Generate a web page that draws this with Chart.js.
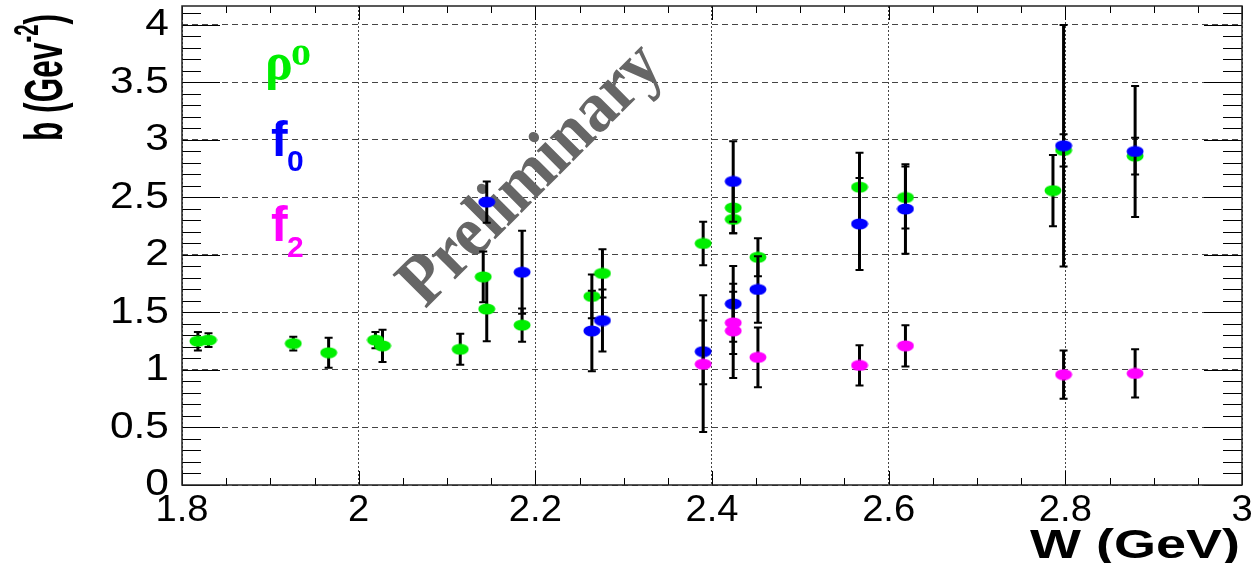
<!DOCTYPE html>
<html>
<head>
<meta charset="utf-8">
<script src="https://cdn.jsdelivr.net/npm/chart.js@4/dist/chart.umd.min.js"></script>
<style>
  html, body { margin: 0; padding: 0; background: #fff; }
  #wrap { width: 1252px; height: 563px; }
</style>
</head>
<body>
<div id="wrap"><canvas id="chartMain" width="1252" height="563"></canvas></div>
<script>
// axis ticks
const xTicks = [1.8, 2.0, 2.2, 2.4, 2.6, 2.8, 3.0];
const yTicks = [0, 0.5, 1, 1.5, 2, 2.5, 3, 3.5, 4];

// rho0 (green)
const rhoW = [1.818, 1.830, 1.926, 1.966, 2.019, 2.027, 2.115, 2.141, 2.145, 2.185, 2.264, 2.276,
              2.390, 2.424, 2.424, 2.452, 2.567, 2.619, 2.786, 2.798, 2.879];
const rhoB = [1.25, 1.26, 1.23, 1.15, 1.26, 1.21, 1.18, 1.81, 1.53, 1.39, 1.64, 1.84,
              2.10, 2.41, 2.31, 1.98, 2.59, 2.50, 2.56, 2.91, 2.86];
const rhoErrLo = [0.08, 0.06, 0.06, 0.13, 0.07, 0.14, 0.135, 0.22, 0.28, 0.145, 0.19, 0.21,
                  0.19, 0.22, 0.12, 0.165, 0.30, 0.27, 0.31, 0.14, 0.16];
const rhoErrHi = [0.08, 0.06, 0.06, 0.13, 0.07, 0.14, 0.135, 0.22, 0.28, 0.145, 0.19, 0.21,
                  0.19, 0.22, 0.12, 0.165, 0.30, 0.27, 0.31, 0.14, 0.16];

// f0 (blue)
const f0W = [2.145, 2.185, 2.264, 2.276, 2.390, 2.424, 2.424, 2.452, 2.567, 2.619, 2.798, 2.879];
const f0B = [2.46, 1.85, 1.34, 1.43, 1.16, 2.64, 1.575, 1.70, 2.27, 2.40, 2.95, 2.90];
const f0ErrLo = [0.18, 0.36, 0.35, 0.27, 0.70, 0.35, 0.33, 0.29, 0.40, 0.39, 1.05, 0.57];
const f0ErrHi = [0.18, 0.36, 0.35, 0.27, 0.49, 0.35, 0.33, 0.29, 0.40, 0.39, 1.05, 0.57];

// f2 (magenta)
const f2W = [2.390, 2.424, 2.424, 2.452, 2.567, 2.619, 2.798, 2.879];
const f2B = [1.05, 1.41, 1.34, 1.11, 1.04, 1.21, 0.96, 0.97];
const f2ErrLo = [0.175, 0.27, 0.41, 0.26, 0.175, 0.18, 0.21, 0.21];
const f2ErrHi = [0.38, 0.27, 0.41, 0.26, 0.175, 0.18, 0.21, 0.21];

const GREEN = '#00ee00', BLUE = '#0000ff', MAGENTA = '#ff00ff';
const SANS = '"Liberation Sans", Arial, Helvetica, sans-serif';
const SERIF = '"Liberation Serif", "Times New Roman", serif';

// elliptical marker like the ROOT plot
function ellipseMarker(color) {
    const c = document.createElement('canvas');
    c.width = 18; c.height = 12;
    const g = c.getContext('2d');
    g.fillStyle = color;
    g.beginPath();
    g.ellipse(9, 6, 8.5, 5.5, 0, 0, Math.PI * 2);
    g.fill();
    return c;
}

function toPoints(ws, bs) {
    return ws.map((w, i) => ({ x: w, y: bs[i] }));
}

// text with separate horizontal / vertical stretch (the original fonts are stretched)
function stretchText(ctx, text, x, y, sx, sy) {
    ctx.save();
    ctx.translate(x, y);
    ctx.scale(sx, sy);
    ctx.fillText(text, 0, 0);
    ctx.restore();
}

// error bars drawn just before each dataset's markers
const errorBars = {
    id: 'errorBars',
    beforeDatasetDraw(chart, args) {
        const ds = chart.data.datasets[args.index];
        const ctx = chart.ctx;
        const ys = chart.scales.y;
        ctx.save();
        ctx.strokeStyle = '#000';
        args.meta.data.forEach((pt, i) => {
            const v = ds.data[i].y;
            const top = ys.getPixelForValue(v + ds.errHi[i]);
            const bot = ys.getPixelForValue(v - ds.errLo[i]);
            ctx.lineWidth = 3;
            ctx.beginPath();
            ctx.moveTo(pt.x, top);
            ctx.lineTo(pt.x, bot);
            ctx.stroke();
            ctx.lineWidth = 2;
            ctx.beginPath();
            ctx.moveTo(pt.x - 4, top); ctx.lineTo(pt.x + 4, top);
            ctx.moveTo(pt.x - 4, bot); ctx.lineTo(pt.x + 4, bot);
            ctx.stroke();
        });
        ctx.restore();
    }
};

// frame, inward ticks, labels and texts
const decorations = {
    id: 'decorations',
    beforeDatasetsDraw(chart) {
        const ctx = chart.ctx;
        const a = chart.chartArea;
        const xs = chart.scales.x, ys = chart.scales.y;
        ctx.save();
        ctx.strokeStyle = '#000';
        ctx.lineWidth = 1;
        ctx.beginPath();
        // y ticks left and right
        for (let k = 0; k <= 41; k++) {
            const v = k / 10;
            const py = Math.round(ys.getPixelForValue(v)) + 0.5;
            const len = (k % 5 === 0) ? 38 : 19;
            ctx.moveTo(a.left, py); ctx.lineTo(a.left + len, py);
            ctx.moveTo(a.right, py); ctx.lineTo(a.right - len, py);
        }
        // x ticks bottom and top
        for (let k = 0; k <= 24; k++) {
            const v = 1.8 + k * 0.05;
            const px = Math.round(xs.getPixelForValue(v)) + 0.5;
            const len = (k % 4 === 0) ? 14 : 7;
            ctx.moveTo(px, a.bottom); ctx.lineTo(px, a.bottom - len);
            ctx.moveTo(px, a.top); ctx.lineTo(px, a.top + len);
        }
        ctx.stroke();
        ctx.lineWidth = 1.5;
        ctx.strokeStyle = '#222';
        ctx.strokeRect(a.left, a.top, a.right - a.left, a.bottom - a.top);

        // Preliminary
        ctx.save();
        ctx.translate(532, 176);
        ctx.rotate(-Math.PI / 4);
        ctx.scale(1.0, 1.1);
        ctx.fillStyle = '#666';
        ctx.font = 'bold 66px ' + SERIF;
        ctx.textAlign = 'center';
        ctx.textBaseline = 'middle';
        ctx.fillText('Preliminary', 0, 0);
        ctx.restore();
        ctx.restore();
    },
    afterDraw(chart) {
        const ctx = chart.ctx;
        const xs = chart.scales.x, ys = chart.scales.y;
        ctx.save();
        ctx.fillStyle = '#000';
        ctx.font = '36px ' + SANS;
        ctx.textAlign = 'right';
        ctx.textBaseline = 'middle';
        yTicks.forEach(v => stretchText(ctx, String(v), 169, ys.getPixelForValue(v), 1.18, 1.05));
        ctx.textAlign = 'center';
        ctx.textBaseline = 'alphabetic';
        xTicks.forEach(v => stretchText(ctx, String(+v.toFixed(1)), xs.getPixelForValue(v), 521, 1.06, 1.05));

        // axis titles
        ctx.font = 'bold 40px ' + SANS;
        ctx.textAlign = 'right';
        stretchText(ctx, 'W (GeV)', 1240, 558, 1.35, 1.0);

        ctx.save();
        ctx.translate(62, 141);
        ctx.rotate(-Math.PI / 2);
        ctx.scale(0.93, 1.6);
        ctx.textAlign = 'left';
        ctx.font = 'bold 34px ' + SANS;
        let t = 'b (Gev';
        ctx.fillText(t, 0, 0);
        let off = ctx.measureText(t).width;
        ctx.font = 'bold 22px ' + SANS;
        ctx.fillText('-2', off, -15);
        off += ctx.measureText('-2').width;
        ctx.font = 'bold 34px ' + SANS;
        ctx.fillText(')', off, 0);
        ctx.restore();

        // labels for the three series
        ctx.textAlign = 'left';
        ctx.fillStyle = GREEN;
        ctx.font = 'bold 52px ' + SERIF;
        ctx.fillText('\u03c1', 265, 79);
        ctx.font = 'bold 40px ' + SERIF;
        ctx.fillText('o', 291, 65);

        ctx.fillStyle = BLUE;
        ctx.font = 'bold 50px ' + SANS;
        ctx.fillText('f', 271, 156);
        ctx.font = 'bold 30px ' + SANS;
        ctx.fillText('0', 287, 171);

        ctx.fillStyle = MAGENTA;
        ctx.font = 'bold 50px ' + SANS;
        ctx.fillText('f', 271, 241);
        ctx.font = 'bold 30px ' + SANS;
        ctx.fillText('2', 287, 257);
        ctx.restore();
    }
};

const ctx = document.getElementById('chartMain').getContext('2d');
new Chart(ctx, {
    type: 'scatter',
    data: {
        datasets: [
            { label: 'rho0', data: toPoints(rhoW, rhoB), errLo: rhoErrLo, errHi: rhoErrHi,
              pointStyle: ellipseMarker(GREEN), order: 3 },
            { label: 'f0', data: toPoints(f0W, f0B), errLo: f0ErrLo, errHi: f0ErrHi,
              pointStyle: ellipseMarker(BLUE), order: 2 },
            { label: 'f2', data: toPoints(f2W, f2B), errLo: f2ErrLo, errHi: f2ErrHi,
              pointStyle: ellipseMarker(MAGENTA), order: 1 }
        ]
    },
    options: {
        responsive: false,
        animation: false,
        layout: { padding: { left: 182, top: 6, right: 10, bottom: 78 } },
        plugins: { legend: { display: false }, tooltip: { enabled: false } },
        scales: {
            x: {
                type: 'linear', min: 1.8, max: 3.0,
                afterBuildTicks: s => { s.ticks = xTicks.map(v => ({ value: v })); },
                afterFit: s => { s.height = 0; },
                ticks: { display: false },
                grid: { color: '#444', lineWidth: 1, drawTicks: false },
                border: { display: false, dash: [2, 2] }
            },
            y: {
                type: 'linear', min: 0, max: 4.165,
                afterBuildTicks: s => { s.ticks = yTicks.map(v => ({ value: v })); },
                afterFit: s => { s.width = 0; },
                ticks: { display: false },
                grid: { color: '#444', lineWidth: 1, drawTicks: false },
                border: { display: false, dash: [6, 4] }
            }
        }
    },
    plugins: [errorBars, decorations]
});
</script>
</body>
</html>
